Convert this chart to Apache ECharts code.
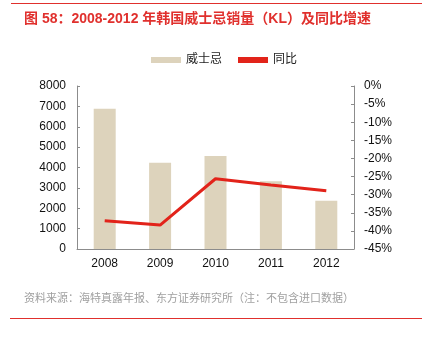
<!DOCTYPE html>
<html><head><meta charset="utf-8">
<script src="https://cdn.jsdelivr.net/npm/echarts@6/dist/echarts.min.js"></script>
<style>html,body{margin:0;padding:0;background:#fff}#c{width:425px;height:338px}</style>
</head><body><div id="c"></div>
<script>
const categories = ['2008','2009','2010','2011','2012'];
const salesKL = [6880, 4230, 4570, 3330, 2370];
const yoyPct = [-37.2, -38.4, -25.6, -27.3, -28.9];
const leftTicks = [0, 8000, 1000];
const rightTicks = [-45, 0, 5];

const chart = echarts.init(document.getElementById('c'), null, {renderer:'canvas'});
const font = '"Liberation Sans", "Noto Sans CJK SC", Arial, sans-serif';
const axisCol = '#8c8c8c';
chart.setOption({
  animation:false,
  textStyle:{fontFamily:font},
  title:[
    {text:'图 58：2008-2012 年韩国威士忌销量（KL）及同比增速', left:19, top:7,
     textStyle:{color:'#e0302d', fontSize:14, fontWeight:'bold', fontFamily:font}},
    {text:'资料来源：海特真露年报、东方证券研究所（注：不包含进口数据）', left:19, top:288,
     textStyle:{color:'#a0a0a0', fontSize:11, fontWeight:'normal', fontFamily:font}}
  ],
  graphic:[
    {type:'line', shape:{x1:11,y1:3.5,x2:422,y2:3.5}, style:{stroke:'#e0302d', lineWidth:1}},
    {type:'line', shape:{x1:10,y1:318.5,x2:422,y2:318.5}, style:{stroke:'#e0302d', lineWidth:1}}
  ],
  legend:{top:49, left:146, itemGap:16, itemWidth:30, itemHeight:6,
    textStyle:{fontSize:12, color:'#222', fontFamily:font},
    data:[{name:'威士忌', icon:'rect'}, {name:'同比', icon:'rect'}]},
  grid:{left:77, right:71, top:86, bottom:89},
  xAxis:{type:'category', data:categories, boundaryGap:true,
    axisLine:{lineStyle:{color:axisCol}}, axisTick:{inside:true, length:3, lineStyle:{color:axisCol}},
    axisLabel:{color:'#111', fontSize:12, margin:9}},
  yAxis:[
    {type:'value', min:leftTicks[0], max:leftTicks[1], interval:leftTicks[2],
     axisLine:{show:true, lineStyle:{color:axisCol}}, axisTick:{show:true, inside:true, length:3, lineStyle:{color:axisCol}},
     splitLine:{show:false}, axisLabel:{color:'#111', fontSize:12, margin:11, formatter:v=>String(v)}},
    {type:'value', min:rightTicks[0], max:rightTicks[1], interval:rightTicks[2],
     axisLine:{show:true, lineStyle:{color:axisCol}}, axisTick:{show:true, inside:true, length:3, lineStyle:{color:axisCol}},
     splitLine:{show:false}, axisLabel:{color:'#111', fontSize:12, margin:10, formatter:v=>v+'%'}}
  ],
  series:[
    {name:'威士忌', type:'bar', data:salesKL, barWidth:22, itemStyle:{color:'#ddd3bc'}},
    {name:'同比', type:'line', yAxisIndex:1, data:yoyPct, symbol:'none',
     lineStyle:{color:'#e2231a', width:3}, itemStyle:{color:'#e2231a'}}
  ]
});
</script></body></html>
